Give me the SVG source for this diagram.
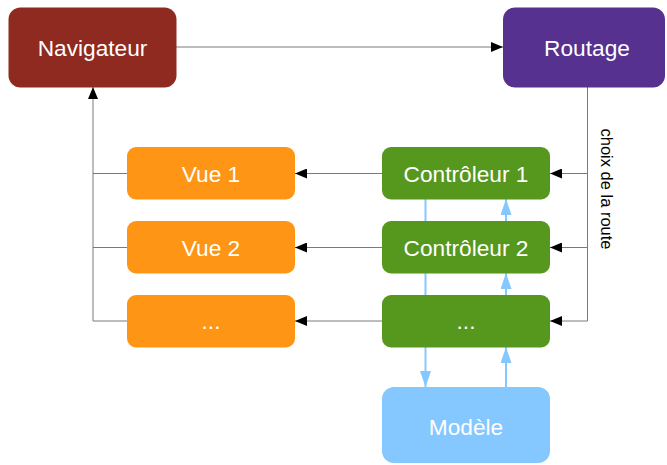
<svg xmlns="http://www.w3.org/2000/svg" width="667" height="465" viewBox="0 0 667 465">
<defs>
<style>
.lbl{font-family:"Liberation Sans",Arial,sans-serif;font-size:22.7px;fill:#fff;text-anchor:middle;dominant-baseline:central}
.ln{stroke:#7a7a7a;stroke-width:1;fill:none}
.bl{stroke:#84c8ff;stroke-width:2;fill:none}
</style>
<marker id="ah" viewBox="0 0 12 10" refX="12" refY="5" markerWidth="12" markerHeight="10" markerUnits="userSpaceOnUse" orient="auto">
<path d="M0,0 L12,5 L0,10 z" fill="#000"/>
</marker>
<marker id="bh" viewBox="0 0 16 11" refX="16" refY="5.5" markerWidth="16" markerHeight="11" markerUnits="userSpaceOnUse" orient="auto">
<path d="M0,0 L16,5.5 L0,11 z" fill="#84c8ff"/>
</marker>
</defs>
<g id="connectors">
<path class="ln" d="M176,47 H503" marker-end="url(#ah)"/>
<path class="ln" d="M93,321 V87" marker-end="url(#ah)"/>
<path class="ln" d="M127,173.5 H93 M127,247.5 H93 M127,321 H93"/>
<path class="ln" d="M587.5,87 V321"/>
<path class="ln" d="M587.5,173.5 H550" marker-end="url(#ah)"/>
<path class="ln" d="M587.5,247.5 H550" marker-end="url(#ah)"/>
<path class="ln" d="M587.5,321 H550" marker-end="url(#ah)"/>
<path class="ln" d="M382,173.5 H295" marker-end="url(#ah)"/>
<path class="ln" d="M382,247.5 H295" marker-end="url(#ah)"/>
<path class="ln" d="M382,321 H295" marker-end="url(#ah)"/>
<path class="bl" d="M425.5,199 V221 M425.5,273 V295"/>
<path class="bl" d="M425.5,347 V387" marker-end="url(#bh)"/>
<path class="bl" d="M506,221 V199" marker-end="url(#bh)"/>
<path class="bl" d="M506,295 V273" marker-end="url(#bh)"/>
<path class="bl" d="M506,387 V347" marker-end="url(#bh)"/>
<text x="0" y="0" transform="translate(606.5,189) rotate(90)" font-family="'Liberation Sans',Arial,sans-serif" font-size="16.5" fill="#000" text-anchor="middle" dominant-baseline="central">choix de la route</text>
</g>
<g id="navigateur"><rect x="8.5" y="7.5" width="168" height="80" rx="12" fill="#8f2a20"/><text class="lbl" x="92.5" y="47.5">Navigateur</text></g>
<g id="routage"><rect x="503" y="7.5" width="162" height="80" rx="12" fill="#56318f"/><text class="lbl" x="587" y="47.5">Routage</text></g>
<g id="vue1"><rect x="127" y="147" width="168" height="52.5" rx="9" fill="#fe9514"/><text class="lbl" x="211" y="173.5">Vue 1</text></g>
<g id="vue2"><rect x="127" y="221" width="168" height="52.5" rx="9" fill="#fe9514"/><text class="lbl" x="211" y="247.5">Vue 2</text></g>
<g id="vue3"><rect x="127" y="295" width="168" height="52.5" rx="9" fill="#fe9514"/><text class="lbl" x="211" y="321">...</text></g>
<g id="ctrl1"><rect x="382" y="147" width="168" height="52.5" rx="9" fill="#56981d"/><text class="lbl" x="466" y="173.5">Contrôleur 1</text></g>
<g id="ctrl2"><rect x="382" y="221" width="168" height="52.5" rx="9" fill="#56981d"/><text class="lbl" x="466" y="247.5">Contrôleur 2</text></g>
<g id="ctrl3"><rect x="382" y="295" width="168" height="52.5" rx="9" fill="#56981d"/><text class="lbl" x="466" y="321">...</text></g>
<g id="modele"><rect x="382" y="387" width="168" height="76" rx="12" fill="#84c8ff"/><text class="lbl" x="466" y="427">Modèle</text></g>
</svg>
